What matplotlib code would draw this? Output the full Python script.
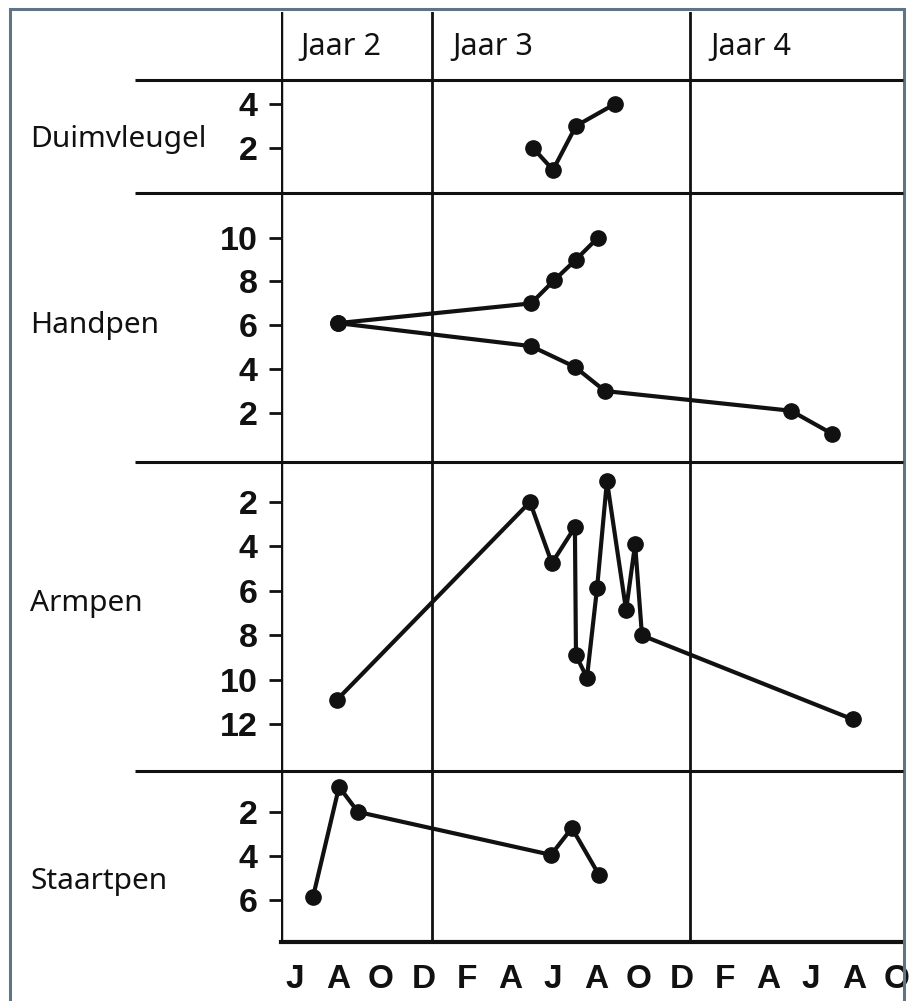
import matplotlib
matplotlib.use("Agg")
import matplotlib.pyplot as plt
from matplotlib.lines import Line2D
from matplotlib.patches import Rectangle

# ====== data (x = months since start of June, year 2) ======
months = ["J", "A", "O", "D", "F", "A", "J", "A", "O", "D", "F", "A", "J", "A", "O"]
month_pos = [0.65 + 2 * i for i in range(len(months))]
year_labels = ["Jaar 2", "Jaar 3", "Jaar 4"]
year_breaks = [7, 19]  # januari jaar 3 / jaar 4

duim_x = [11.72, 12.65, 13.72, 15.53]
duim_y = [2, 1, 3, 4]

hand_up_x = [2.65, 11.63, 12.7, 13.72, 14.74]
hand_up_y = [6.1, 7, 8.05, 9, 10]
hand_down_x = [2.65, 11.63, 13.67, 15.07, 23.72, 25.63]
hand_down_y = [6.1, 5.05, 4.1, 3.0, 2.1, 1.05]

arm_x = [2.6, 11.58, 12.6, 13.67, 13.72, 14.23, 14.7, 15.16, 16.05, 16.47, 16.79, 26.6]
arm_y = [10.9, 2.0, 4.75, 3.13, 8.9, 9.9, 5.88, 1.05, 6.86, 3.9, 8.0, 11.78]

staart_x = [1.49, 2.7, 3.58, 12.56, 13.53, 14.79]
staart_y = [5.86, 0.86, 2.0, 3.95, 2.73, 4.86]

W, H = 911, 1001
X0, X1 = 281, 903          # pixel extent of the time axis
XMAX = (X1 - X0) / 21.5    # 21.5 px per month
INK = "#111111"

fig = plt.figure(figsize=(W / 100, H / 100), dpi=100)
fig.patch.set_facecolor("white")


def box(x0, y0, x1, y1):
    return [x0 / W, 1 - y1 / H, (x1 - x0) / W, (y1 - y0) / H]


def fig_line(xs, ys, lw=2.2):
    fig.add_artist(Line2D([x / W for x in xs], [1 - y / H for y in ys],
                          color=INK, lw=lw, solid_capstyle="butt"))


# achtergrond: tijdas, jaargrenzen, maanden
bg = fig.add_axes(box(X0, 12, X1, 942))
bg.set_xlim(0, XMAX)
bg.set_ylim(0, 1)
for s in ["top", "right", "left"]:
    bg.spines[s].set_visible(False)
bg.spines["bottom"].set_linewidth(3)
bg.spines["bottom"].set_color(INK)
bg.axvline(0, color=INK, lw=3.2)
for xb in year_breaks:
    bg.axvline(xb, color=INK, lw=2)
bg.set_yticks([])
bg.set_xticks(month_pos)
bg.set_xticklabels(months, fontfamily="Liberation Sans", fontweight="bold", fontsize=24)
bg.tick_params(axis="x", length=0, pad=16, colors=INK)
bg.patch.set_alpha(0)

# horizontale scheidingslijnen
for yy in [80, 193, 462, 771]:
    fig_line([135, X1], [yy, yy])

# panelen: (bovenkant, onderkant, ylim, ticks, label, label y)
panels = [
    (80, 193, (-0.05, 5.09), [2, 4], "Duimvleugel", 140),
    (193, 462, (-0.24, 12.04), [2, 4, 6, 8, 10], "Handpen", 325),
    (462, 771, (14.1, 0.2), [2, 4, 6, 8, 10, 12], "Armpen", 603),
    (771, 942, (7.91, 0.14), [2, 4, 6], "Staartpen", 882),
]
series = [
    [(duim_x, duim_y)],
    [(hand_up_x, hand_up_y), (hand_down_x, hand_down_y)],
    [(arm_x, arm_y)],
    [(staart_x, staart_y)],
]

for (top, bot, ylim, ticks, label, ly), lines in zip(panels, series):
    ax = fig.add_axes(box(X0, top, X1, bot))
    ax.set_xlim(0, XMAX)
    ax.set_ylim(*ylim)
    for s in ax.spines.values():
        s.set_visible(False)
    ax.patch.set_alpha(0)
    ax.set_xticks([])
    ax.set_yticks(ticks)
    ax.set_yticklabels([str(t) for t in ticks], fontfamily="Liberation Sans",
                       fontweight="bold", fontsize=24.5)
    ax.tick_params(axis="y", length=9, width=2, pad=8, colors=INK)
    for xs, ys in lines:
        ax.plot(xs, ys, color=INK, lw=3.0, marker="o", markersize=11,
                clip_on=False)
    fig.text(30 / W, 1 - ly / H, label, fontfamily="Noto Sans", fontsize=21.5,
             va="center", ha="left", color=INK)

# jaar labels
for lab, xp in zip(year_labels, [300, 452, 710]):
    fig.text(xp / W, 1 - 47 / H, lab, fontfamily="Noto Sans", fontsize=22,
             va="center", ha="left", color=INK)

# grijze rand rond de afbeelding
fig.add_artist(Rectangle((10 / W, -0.01), (904 - 10) / W, 1 - 9 / H + 0.01,
                         fill=False, edgecolor="#5f7487", lw=2.2,
                         transform=fig.transFigure))

fig.savefig("out.png", dpi=100)
